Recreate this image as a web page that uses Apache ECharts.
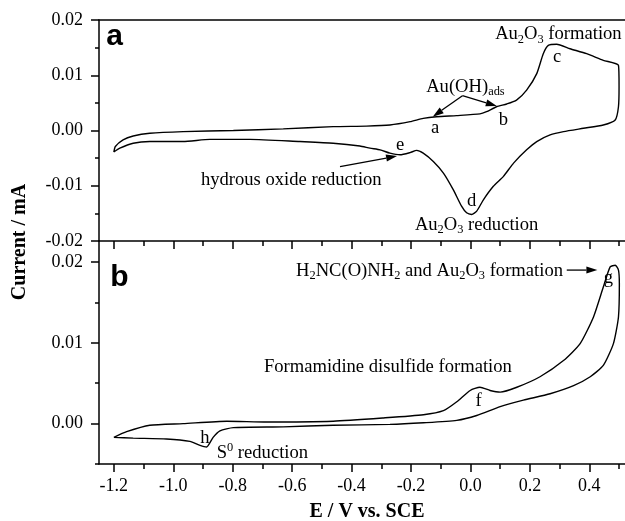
<!DOCTYPE html>
<html>
<head>
<meta charset="utf-8">
<script src="https://cdn.jsdelivr.net/npm/echarts@6.0.0/dist/echarts.min.js"></script>
<style>
html, body { margin: 0; padding: 0; background: #fff; }
#chart { width: 625px; height: 521px; }
</style>
</head>
<body>
<div id="chart"></div>
<script>
// panel a: gold electrode, blank electrolyte
var aPotential = [-1.200, -1.195, -1.169, -1.135, -1.079, -0.967, -0.798, -0.630, -0.462, -0.350, -0.271, -0.203, -0.159, -0.114, -0.047,
    0.032, 0.054, 0.088, 0.122, 0.155, 0.189, 0.223, 0.245, 0.262, 0.290, 0.335, 0.391, 0.447, 0.498,
    0.500, 0.498, 0.487, 0.447, 0.380, 0.313, 0.268, 0.223, 0.189, 0.145, 0.111, 0.077, 0.044, 0.021, 0.004,
    -0.013, -0.030, -0.058, -0.091, -0.125, -0.159, -0.181, -0.203, -0.237, -0.271, -0.304, -0.338, -0.372,
    -0.462, -0.574, -0.742, -0.877, -0.967, -1.079, -1.135, -1.180, -1.200];
var aCurrent = [-0.0039, -0.0029, -0.0017, -0.0010, -0.0005, -0.0002, 0.0000, 0.0003, 0.0007, 0.0008, 0.0010, 0.0016, 0.0022, 0.0025, 0.0027,
    0.0030, 0.0034, 0.0043, 0.0048, 0.0055, 0.0073, 0.0103, 0.0139, 0.0154, 0.0156, 0.0148, 0.0139, 0.0127, 0.0118,
    0.0079, 0.0043, 0.0019, 0.0010, 0.0004, -0.0002, -0.0008, -0.0020, -0.0035, -0.0059, -0.0083, -0.0101, -0.0125, -0.0146, -0.0152,
    -0.0149, -0.0137, -0.0107, -0.0077, -0.0056, -0.0041, -0.0036, -0.0040, -0.0044, -0.0041, -0.0035, -0.0032, -0.0028,
    -0.0023, -0.0020, -0.0016, -0.0016, -0.0020, -0.0020, -0.0023, -0.0032, -0.0039];

// panel b: with thiourea
var bPotential = [-1.200, -1.157, -1.079, -0.967, -0.820, -0.686, -0.462, -0.293, -0.158, -0.091, -0.046, -0.001, 0.032, 0.066, 0.100,
    0.156, 0.234, 0.313, 0.369, 0.414, 0.447, 0.470, 0.487, 0.498,
    0.501, 0.498, 0.481, 0.447, 0.403, 0.347, 0.268, 0.178, 0.100, 0.021, -0.046, -0.158, -0.271, -0.462, -0.630,
    -0.798, -0.843, -0.866, -0.888, -0.910, -0.944, -1.023, -1.135, -1.200];
var bCurrent = [-0.0017, -0.0010, -0.0002, 0.0000, 0.0003, 0.0002, 0.0003, 0.0007, 0.0011, 0.0016, 0.0027, 0.0041, 0.0045, 0.0041, 0.0039,
    0.0045, 0.0058, 0.0078, 0.0099, 0.0132, 0.0169, 0.0194, 0.0196, 0.0190,
    0.0173, 0.0132, 0.0099, 0.0072, 0.0058, 0.0047, 0.0037, 0.0029, 0.0021, 0.0010, 0.0004, 0.0001, -0.0001, -0.0002, -0.0004,
    -0.0005, -0.0009, -0.0017, -0.0029, -0.0027, -0.0022, -0.0019, -0.0018, -0.0017];

var xMajorTicks = [-1.2, -1.0, -0.8, -0.6, -0.4, -0.2, 0.0, 0.2, 0.4];
var xMinorTicks = [-1.1, -0.9, -0.7, -0.5, -0.3, -0.1, 0.1, 0.3, 0.5];
var yMajorTicksA = [-0.02, -0.01, 0.00, 0.01, 0.02];
var yMinorTicksA = [-0.015, -0.005, 0.005, 0.015];
var yMajorTicksB = [0.00, 0.01, 0.02];
var yMinorTicksB = [-0.005, 0.005, 0.015];

var SERIF = 'Liberation Serif';
var SANS = 'Liberation Sans';

function zip(xs, ys) {
    return xs.map(function (x, i) { return [x, ys[i]]; });
}

var line = { color: '#000', width: 1.5 };

function xAxisFor(grid, ticks, len, opts) {
    return Object.assign({
        type: 'value', gridIndex: grid, min: -1.25, max: 0.52, position: 'bottom',
        axisLine: { show: true, onZero: false, lineStyle: line },
        axisTick: { show: true, length: len, customValues: ticks, lineStyle: line },
        axisLabel: { show: false },
        splitLine: { show: false }
    }, opts || {});
}

function yAxisFor(grid, min, max, ticks, len, opts) {
    return Object.assign({
        type: 'value', gridIndex: grid, min: min, max: max, position: 'left',
        axisLine: { show: true, onZero: false, lineStyle: line },
        axisTick: { show: true, length: len, customValues: ticks, lineStyle: line },
        axisLabel: { show: false },
        splitLine: { show: false }
    }, opts || {});
}

var hidden = { axisLine: { show: false, onZero: false } };

var chart = echarts.init(document.getElementById('chart'));

var option = {
    animation: false,
    backgroundColor: '#fff',
    grid: [
        { left: 99, right: 0, top: 20, height: 221 },
        { left: 99, right: 0, top: 241, height: 223 }
    ],
    xAxis: [
        xAxisFor(0, xMajorTicks, 8),
        xAxisFor(0, xMinorTicks, 5, hidden),
        xAxisFor(0, [], 0, { position: 'top', axisTick: { show: false } }),
        xAxisFor(1, xMajorTicks, 8, {
            axisLabel: {
                show: true, customValues: xMajorTicks, margin: 13,
                fontFamily: SERIF, fontSize: 18, color: '#000',
                formatter: function (v) { return v.toFixed(1); }
            }
        }),
        xAxisFor(1, xMinorTicks, 5, hidden)
    ],
    yAxis: [
        yAxisFor(0, -0.02, 0.02, yMajorTicksA, 8, {
            axisLabel: {
                show: true, customValues: yMajorTicksA, margin: 16,
                fontFamily: SERIF, fontSize: 18, color: '#000',
                formatter: function (v) { return v.toFixed(2); }
            }
        }),
        yAxisFor(0, -0.02, 0.02, yMinorTicksA, 4, hidden),
        yAxisFor(1, -0.005, 0.0226, yMajorTicksB, 8, {
            axisLabel: {
                show: true, customValues: yMajorTicksB, margin: 16,
                fontFamily: SERIF, fontSize: 18, color: '#000',
                formatter: function (v) { return v.toFixed(2); }
            }
        }),
        yAxisFor(1, -0.005, 0.0226, yMinorTicksB, 4, hidden)
    ],
    series: [
        {
            type: 'line', xAxisIndex: 0, yAxisIndex: 0,
            data: zip(aPotential, aCurrent),
            showSymbol: false, smooth: 0.2,
            lineStyle: { color: '#000', width: 1.4 }
        },
        {
            type: 'line', xAxisIndex: 3, yAxisIndex: 2,
            data: zip(bPotential, bCurrent),
            showSymbol: false, smooth: 0.2,
            lineStyle: { color: '#000', width: 1.4 }
        }
    ]
};

chart.setOption(option);

// annotations, placed in data coordinates of each panel
var FS = 18.6;
var subStyle = { fontFamily: SERIF, fontSize: 12.4, padding: [10, 0, 0, 0], fill: '#000' };
var supStyle = { fontFamily: SERIF, fontSize: 12.4, padding: [0, 0, 10, 0], fill: '#000' };

var notes = [
    { p: 0, e: 0.083, i: 0.01738, t: 'Au{sub|2}O{sub|3} formation' },
    { p: 0, e: 0.292, i: 0.0133, t: 'c', a: 'center' },
    { p: 0, e: -0.149, i: 0.0079, t: 'Au(OH){sub|ads}' },
    { p: 0, e: -0.119, i: 0.00045, t: 'a', a: 'center' },
    { p: 0, e: 0.111, i: 0.0019, t: 'b', a: 'center' },
    { p: 0, e: -0.237, i: -0.0026, t: 'e', a: 'center' },
    { p: 0, e: -0.907, i: -0.0090, t: 'hydrous oxide reduction' },
    { p: 0, e: 0.004, i: -0.0128, t: 'd', a: 'center' },
    { p: 0, e: -0.187, i: -0.0171, t: 'Au{sub|2}O{sub|3} reduction' },
    { p: 1, e: -0.587, i: 0.0189, t: 'H{sub|2}NC(O)NH{sub|2} and Au{sub|2}O{sub|3} formation' },
    { p: 1, e: 0.464, i: 0.0180, t: 'g', a: 'center' },
    { p: 1, e: -0.695, i: 0.0070, t: 'Formamidine disulfide formation' },
    { p: 1, e: 0.027, i: 0.0028, t: 'f', a: 'center' },
    { p: 1, e: -0.894, i: -0.0018, t: 'h', a: 'center' },
    { p: 1, e: -0.854, i: -0.0036, t: 'S{sup|0} reduction' }
];

var panelLabels = [
    { p: 0, e: -1.226, i: 0.0169, t: 'a' },
    { p: 1, e: -1.212, i: 0.0181, t: 'b' }
];

var arrows = [
    { p: 0, from: [-0.027, 0.0063], to: [-0.127, 0.0025] },
    { p: 0, from: [-0.027, 0.0063], to: [0.0886, 0.00443] },
    { p: 0, from: [-0.439, -0.00655], to: [-0.247, -0.00462] },
    { p: 1, from: [0.324, 0.0190], to: [0.427, 0.0190] }
];

function px(p, e, i) {
    return chart.convertToPixel({ seriesIndex: p }, [e, i]);
}

var graphic = [];

notes.forEach(function (n) {
    var pt = px(n.p, n.e, n.i);
    graphic.push({
        type: 'text', x: pt[0], y: pt[1], silent: true,
        style: {
            text: n.t, fill: '#000', fontFamily: SERIF, fontSize: FS,
            align: n.a || 'left', verticalAlign: 'middle',
            rich: { sub: subStyle, sup: supStyle }
        }
    });
});

panelLabels.forEach(function (n) {
    var pt = px(n.p, n.e, n.i);
    graphic.push({
        type: 'text', x: pt[0], y: pt[1], silent: true,
        style: {
            text: n.t, fill: '#000', fontFamily: SANS, fontSize: 30, fontWeight: 'bold',
            align: 'left', verticalAlign: 'middle'
        }
    });
});

arrows.forEach(function (a) {
    var p1 = px(a.p, a.from[0], a.from[1]);
    var p2 = px(a.p, a.to[0], a.to[1]);
    var ang = Math.atan2(p2[1] - p1[1], p2[0] - p1[0]);
    var len = 11, half = 3.5;
    var bx = p2[0] - len * Math.cos(ang), by = p2[1] - len * Math.sin(ang);
    graphic.push({
        type: 'line', silent: true,
        shape: { x1: p1[0], y1: p1[1], x2: bx, y2: by },
        style: { stroke: '#000', lineWidth: 1.3 }
    });
    graphic.push({
        type: 'polygon', silent: true,
        shape: {
            points: [
                [p2[0], p2[1]],
                [bx + half * Math.sin(ang), by - half * Math.cos(ang)],
                [bx - half * Math.sin(ang), by + half * Math.cos(ang)]
            ]
        },
        style: { fill: '#000' }
    });
});

// axis titles
graphic.push({
    type: 'text', x: 20, y: 242, rotation: Math.PI / 2, silent: true,
    style: {
        text: 'Current / mA', fill: '#000', fontFamily: SERIF, fontSize: 20, fontWeight: 'bold',
        align: 'center', verticalAlign: 'middle'
    }
});
graphic.push({
    type: 'text', x: 367, y: 512, silent: true,
    style: {
        text: 'E / V vs. SCE', fill: '#000', fontFamily: SERIF, fontSize: 20, fontWeight: 'bold',
        align: 'center', verticalAlign: 'middle'
    }
});

chart.setOption({ graphic: graphic });
</script>
</body>
</html>
